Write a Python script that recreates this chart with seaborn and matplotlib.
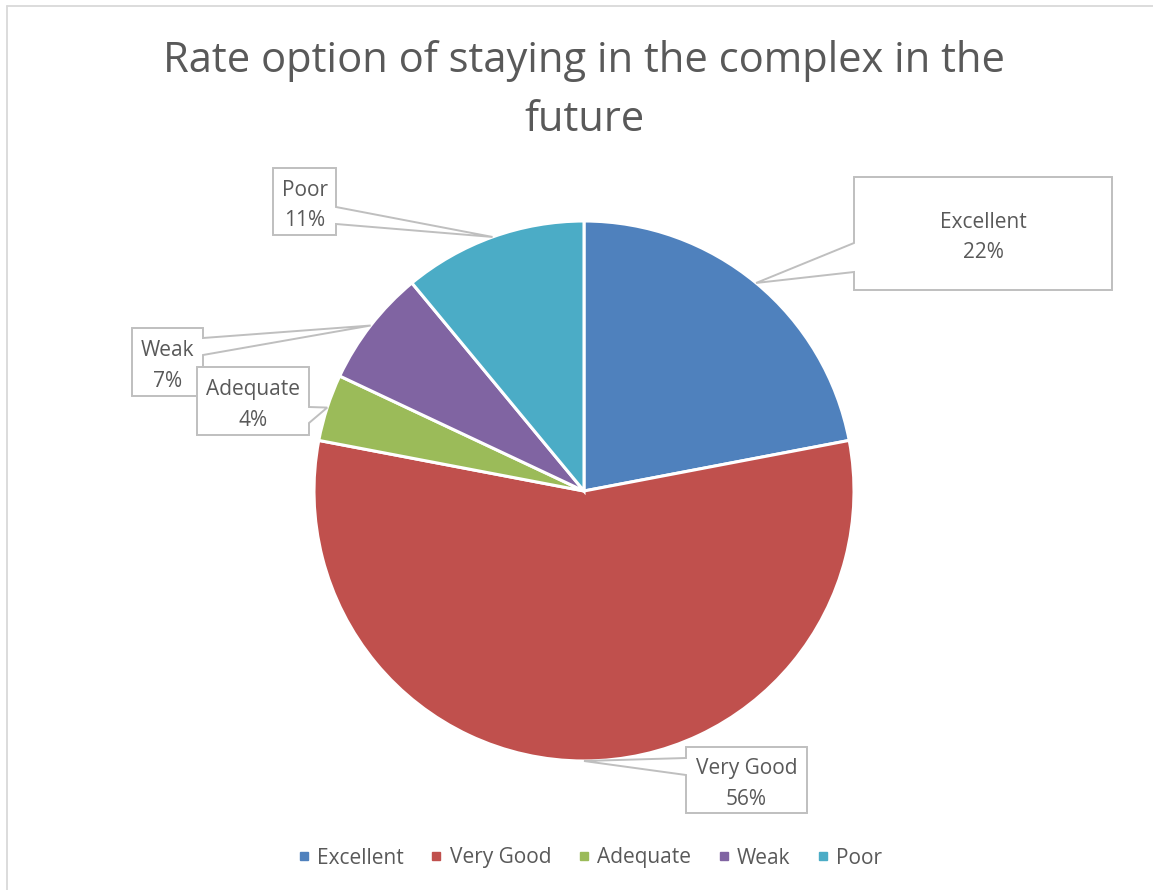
import matplotlib
matplotlib.use("Agg")
import numpy as np
import matplotlib.pyplot as plt
import seaborn as sns
from matplotlib.patches import Polygon
from matplotlib.lines import Line2D

# ---- data ----
categories = ["Excellent", "Very Good", "Adequate", "Weak", "Poor"]
shares = [22, 56, 4, 7, 11]
colors = ["#4F81BD", "#C0504D", "#9BBB59", "#8064A2", "#4BACC6"]
title_lines = ["Rate option of staying in the complex in the", "future"]

# callout boxes: (left, top, right, bottom) in pixels measured from the top-left,
# side of the box the pointer leaves from, and the pointer's base span on that side
callouts = {
    "Excellent": dict(box=(854, 177, 1112, 290), side="left", base=(243, 272)),
    "Very Good": dict(box=(686, 747, 807, 813), side="left", base=(758, 775)),
    "Weak": dict(box=(132, 328, 203, 396), side="right", base=(338, 355)),
    "Adequate": dict(box=(197, 367, 309, 435), side="right", base=(407, 423)),
    "Poor": dict(box=(273, 168, 336, 235), side="right", base=(207, 224)),
}

W, H = 1153, 890
TEXT = "#595959"
EDGE = "#BFBFBF"
FONT = "Open Sans"

sns.set_theme(style="white")
plt.rcParams["font.family"] = [FONT, "DejaVu Sans"]

fig = plt.figure(figsize=(W / 100, H / 100), dpi=100)
fig.patch.set_facecolor("white")
ax = fig.add_axes([0, 0, 1, 1])


def py(y):
    """pixel row (from top) -> data y"""
    return H - y


center = (584, py(491))
radius = 270
wedges, _ = ax.pie(
    shares,
    colors=colors,
    startangle=90,
    counterclock=False,
    center=center,
    radius=radius,
    frame=True,
    wedgeprops=dict(edgecolor="white", linewidth=2.2),
)
ax.set_xlim(0, W)
ax.set_ylim(0, H)
ax.set_aspect("auto")
ax.axis("off")

# ---- callout labels ----
order = ["Excellent", "Very Good", "Poor", "Weak", "Adequate"]
for cat in order:
    i = categories.index(cat)
    w = wedges[i]
    mid = np.deg2rad((w.theta1 + w.theta2) / 2)
    tip = (center[0] + radius * np.cos(mid), center[1] + radius * np.sin(mid))
    c = callouts[cat]
    l, t, r, b = c["box"]
    ya, yb = c["base"]
    if c["side"] == "left":
        pts = [(l, py(t)), (r, py(t)), (r, py(b)), (l, py(b)),
               (l, py(yb)), tip, (l, py(ya))]
    else:
        pts = [(l, py(t)), (r, py(t)), (r, py(ya)), tip, (r, py(yb)),
               (r, py(b)), (l, py(b))]
    ax.add_patch(Polygon(pts, closed=True, facecolor="white", edgecolor=EDGE,
                         linewidth=1.4, zorder=5))
    ax.text((l + r) / 2, py((t + b) / 2) - 4, f"{cat}\n{shares[i]}%",
            ha="center", va="center", color=TEXT, fontsize=15,
            linespacing=1.6, zorder=6)

# ---- title ----
ax.text(584, py(72), title_lines[0], ha="center", va="baseline",
        fontsize=30, color=TEXT, zorder=6)
ax.text(584, py(131), title_lines[1], ha="center", va="baseline",
        fontsize=30, color=TEXT, zorder=6)

# ---- legend ----
handles = [Line2D([], [], linestyle="none", marker="s", markersize=5.5,
                  markerfacecolor=col, markeredgecolor=col) for col in colors]
fig.legend(handles, categories, loc="center", bbox_to_anchor=(590 / W, 1 - 858 / H),
           ncol=5, frameon=False, fontsize=15, labelcolor=TEXT,
           handlelength=0.6, handletextpad=0.35, columnspacing=1.25)

# ---- chart area border ----
fig.add_artist(Line2D([7 / W, 7 / W], [0, 1 - 6 / H], transform=fig.transFigure,
                      color="#D9D9D9", linewidth=1.3))
fig.add_artist(Line2D([7 / W, 1], [1 - 6 / H, 1 - 6 / H], transform=fig.transFigure,
                      color="#D9D9D9", linewidth=1.3))

fig.savefig("out.png", dpi=100, facecolor="white")
